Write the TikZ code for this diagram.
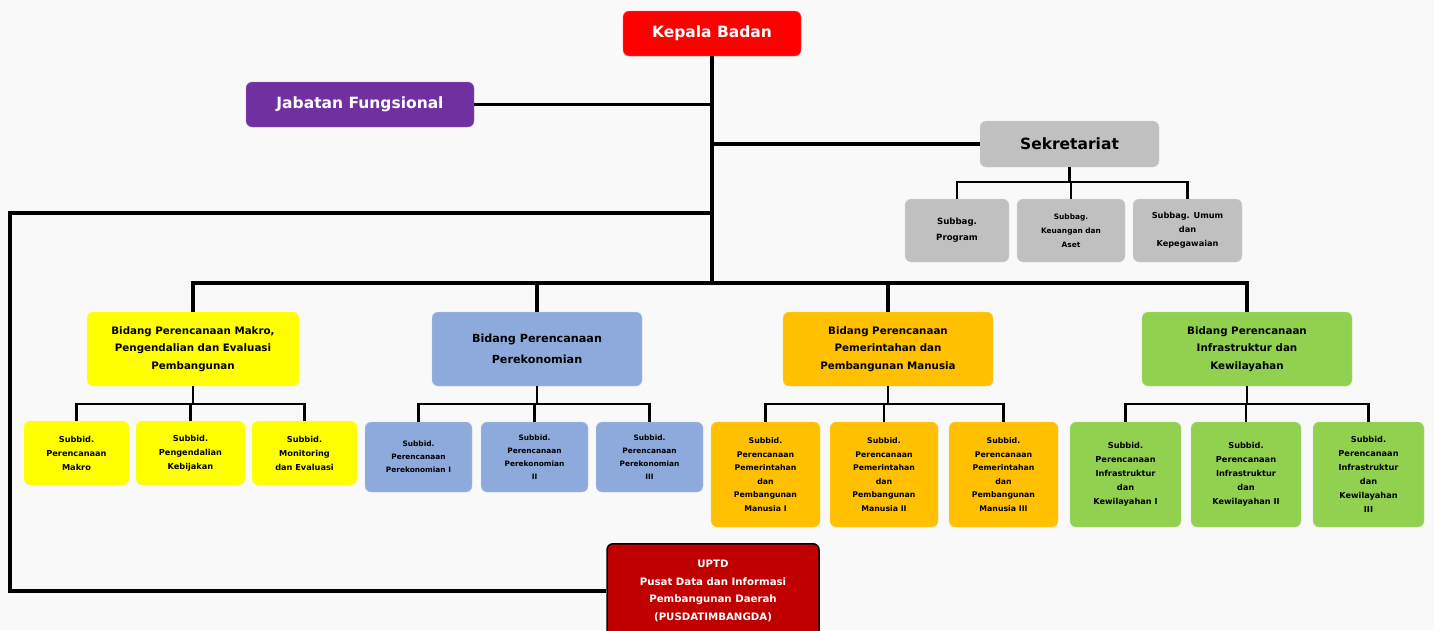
\documentclass[tikz,border=0pt]{standalone}
\usepackage{fontspec}
\setmainfont{DejaVu Sans}
\definecolor{bg}{HTML}{F9F9F9}
\definecolor{cred}{HTML}{FF0000}
\definecolor{cpurple}{HTML}{7030A0}
\definecolor{cgray}{HTML}{C0C0C0}
\definecolor{cyellow}{HTML}{FFFF00}
\definecolor{cblue}{HTML}{8EA9DB}
\definecolor{corange}{HTML}{FFC000}
\definecolor{cgreen}{HTML}{92D050}
\definecolor{cdred}{HTML}{C00000}
\tikzset{
  box/.style={rounded corners=6pt, align=center, inner sep=1pt, font=\bfseries},
  topbox/.style={box, text=white, font=\fontsize{15.5}{19}\selectfont\bfseries},
  bidbox/.style={box, font=\fontsize{10.3}{17.5}\selectfont\bfseries},
  subbox/.style={box, font=\fontsize{8.2}{14}\selectfont\bfseries},
  trunk/.style={line width=3.8pt},
  twig/.style={line width=2.4pt},
}
\begin{document}
\begin{tikzpicture}[x=1pt,y=-1pt]
\fill[bg] (0,0) rectangle (1434,630);
\useasboundingbox (0,0) rectangle (1434,630);
% top
\node[topbox, fill=cred, draw=cred!60!white, minimum width=178pt, minimum height=45pt] (kb) at (712,33.5) {Kepala Badan};
\node[topbox, fill=cpurple, draw=cpurple!60!white, minimum width=228pt, minimum height=45pt] (jf) at (360,104.5) {Jabatan Fungsional};
\node[topbox, text=black, fill=cgray, draw=cgray!60!white, minimum width=179pt, minimum height=46pt] (sek) at (1069.5,144) {Sekretariat};
% sekretariat children
\node[subbox, font=\fontsize{8.6}{16}\selectfont\bfseries, fill=cgray, draw=cgray!60!white, minimum width=104pt, minimum height=63pt] (sp1) at (957,230.5) {Subbag.\\Program};
\node[subbox, font=\fontsize{7.4}{14}\selectfont\bfseries, fill=cgray, draw=cgray!60!white, minimum width=108pt, minimum height=63pt] (sp2) at (1071,230.5) {Subbag.\\Keuangan dan\\Aset};
\node[subbox, font=\fontsize{8.2}{14}\selectfont\bfseries, fill=cgray, draw=cgray!60!white, minimum width=109pt, minimum height=63pt] (sp3) at (1187.5,230.5) {Subbag. Umum\\dan\\Kepegawaian};
% bidang
\node[bidbox, fill=cyellow, draw=cyellow!60!white, minimum width=212pt, minimum height=74pt] (b1) at (193,349) {Bidang Perencanaan Makro,\\Pengendalian dan Evaluasi\\Pembangunan};
\node[bidbox, font=\fontsize{11.2}{21}\selectfont\bfseries, fill=cblue, draw=cblue!60!white, minimum width=210pt, minimum height=74pt] (b2) at (537,349) {Bidang Perencanaan\\Perekonomian};
\node[bidbox, fill=corange, draw=corange!60!white, minimum width=210pt, minimum height=74pt] (b3) at (888,349) {Bidang Perencanaan\\Pemerintahan dan\\Pembangunan Manusia};
\node[bidbox, fill=cgreen, draw=cgreen!60!white, minimum width=210pt, minimum height=74pt] (b4) at (1247,349) {Bidang Perencanaan\\Infrastruktur dan\\Kewilayahan};
% makro subs
\node[subbox, fill=cyellow, draw=cyellow!60!white, minimum width=105pt, minimum height=64pt] (m1) at (76.5,453) {Subbid.\\Perencanaan\\Makro};
\node[subbox, fill=cyellow, draw=cyellow!60!white, minimum width=109pt, minimum height=64pt] (m2) at (190.5,453) {Subbid.\\Pengendalian\\Kebijakan};
\node[subbox, fill=cyellow, draw=cyellow!60!white, minimum width=105pt, minimum height=64pt] (m3) at (304.5,453) {Subbid.\\Monitoring\\dan Evaluasi};
% ekonomi subs
\node[subbox, font=\fontsize{7.4}{13}\selectfont\bfseries, fill=cblue, draw=cblue!60!white, minimum width=107pt, minimum height=70pt] (e1) at (418.5,457) {Subbid.\\Perencanaan\\Perekonomian I};
\node[subbox, font=\fontsize{7.4}{13}\selectfont\bfseries, fill=cblue, draw=cblue!60!white, minimum width=107pt, minimum height=70pt] (e2) at (534.5,457) {Subbid.\\Perencanaan\\Perekonomian\\II};
\node[subbox, font=\fontsize{7.4}{13}\selectfont\bfseries, fill=cblue, draw=cblue!60!white, minimum width=107pt, minimum height=70pt] (e3) at (649.5,457) {Subbid.\\Perencanaan\\Perekonomian\\III};
% pemerintahan subs
\node[subbox, font=\fontsize{7.8}{13.5}\selectfont\bfseries, fill=corange, draw=corange!60!white, minimum width=109pt, minimum height=105pt] (p1) at (765.5,474.5) {Subbid.\\Perencanaan\\Pemerintahan\\dan\\Pembangunan\\Manusia I};
\node[subbox, font=\fontsize{7.8}{13.5}\selectfont\bfseries, fill=corange, draw=corange!60!white, minimum width=108pt, minimum height=105pt] (p2) at (884,474.5) {Subbid.\\Perencanaan\\Pemerintahan\\dan\\Pembangunan\\Manusia II};
\node[subbox, font=\fontsize{7.8}{13.5}\selectfont\bfseries, fill=corange, draw=corange!60!white, minimum width=109pt, minimum height=105pt] (p3) at (1003.5,474.5) {Subbid.\\Perencanaan\\Pemerintahan\\dan\\Pembangunan\\Manusia III};
% infra subs
\node[subbox, fill=cgreen, draw=cgreen!60!white, minimum width=111pt, minimum height=105pt] (i1) at (1125.5,474.5) {Subbid.\\Perencanaan\\Infrastruktur\\dan\\Kewilayahan I};
\node[subbox, fill=cgreen, draw=cgreen!60!white, minimum width=110pt, minimum height=105pt] (i2) at (1246,474.5) {Subbid.\\Perencanaan\\Infrastruktur\\dan\\Kewilayahan II};
\node[subbox, fill=cgreen, draw=cgreen!60!white, minimum width=111pt, minimum height=105pt] (i3) at (1368.5,474.5) {Subbid.\\Perencanaan\\Infrastruktur\\dan\\Kewilayahan\\III};
% UPTD
\node[box, text=white, font=\fontsize{10.2}{17.5}\selectfont\bfseries, fill=cdred, draw=black, line width=1.5pt, minimum width=212pt, minimum height=94pt, anchor=north] (uptd) at (713,543) {UPTD\\Pusat Data dan Informasi\\Pembangunan Daerah\\(PUSDATIMBANGDA)};
% coordinates
\coordinate (yJ) at (0,104.5);
\coordinate (yL) at (0,213);
\coordinate (yB) at (0,283);
\coordinate (xL) at (10,0);
\coordinate (ySek) at (0,182);
\coordinate (ySub) at (0,404);
% trunk
\draw[trunk] (kb.south) -- (kb.south |- yB);
\draw[trunk] (jf.east) -- (kb.south |- yJ);
\draw[trunk] (kb.south |- sek.west) -- (sek.west);
\draw[trunk] (kb.south |- yL) -- (xL |- yL) -- (xL |- uptd.west) -- (uptd.west);
\draw[trunk] (b1.north) -- (b1.north |- yB) -- (b4.north |- yB) -- (b4.north);
\draw[trunk] (b2.north) -- (b2.north |- yB);
\draw[trunk] (b3.north) -- (b3.north |- yB);
% sekretariat twigs
\draw[twig] (sek.south) -- (sek.south |- ySek);
\draw[twig] (sp1.north) -- (sp1.north |- ySek) -- (sp3.north |- ySek) -- (sp3.north);
\draw[twig] (sp2.north) -- (sp2.north |- ySek);
% bidang twigs
\foreach \p/\a/\b/\c in {b1/m1/m2/m3, b2/e1/e2/e3, b3/p1/p2/p3, b4/i1/i2/i3}{
  \draw[twig] (\p.south) -- (\p.south |- ySub);
  \draw[twig] (\a.north) -- (\a.north |- ySub) -- (\c.north |- ySub) -- (\c.north);
  \draw[twig] (\b.north) -- (\b.north |- ySub);
}
\end{tikzpicture}
\end{document}
